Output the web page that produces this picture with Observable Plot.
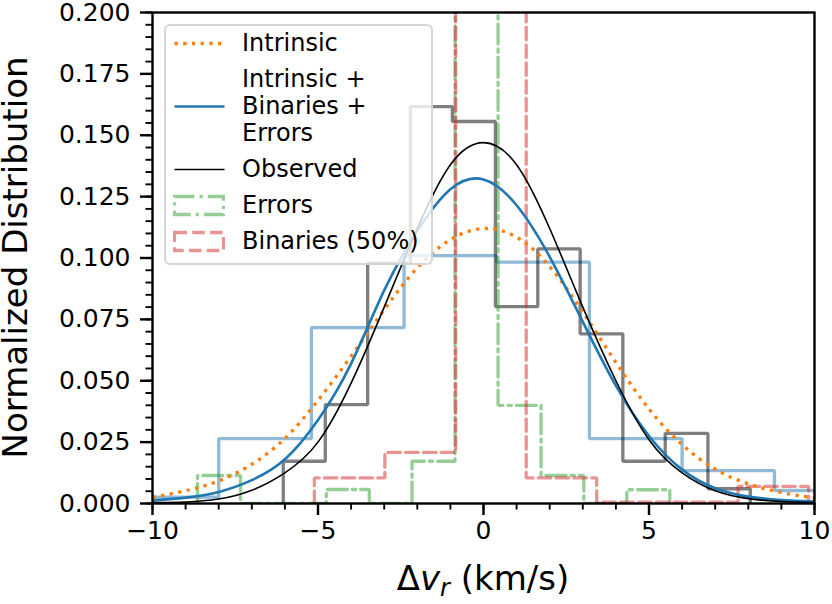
<!DOCTYPE html>
<html><head><meta charset="utf-8">
<script src="https://cdn.jsdelivr.net/npm/d3@7"></script>
<script src="https://cdn.jsdelivr.net/npm/@observablehq/plot@0.6"></script>
<style>
html,body{margin:0;padding:0;background:#fff;}
#wrap{position:relative;width:832px;height:604px;font-family:"DejaVu Sans",sans-serif;}
#legend{position:absolute;left:164px;top:24px;width:269px;height:241px;box-sizing:border-box;border:2px solid rgba(204,204,204,0.8);border-radius:6px;background:rgba(255,255,255,0.8);padding:4px 0 0 7px;display:flex;flex-direction:column;gap:9px;font-size:24px;color:#000;}
.row{display:flex;align-items:center;}
.row svg{flex:none;width:52px;height:27px;}
.row .lab{margin-left:17px;line-height:27px;white-space:nowrap;}
</style></head><body><div id="wrap"><div id="legend"></div></div>
<script>
// ---- data ----
// Observed histogram (gray)
const obsEdges  = [-6.05, -4.78, -3.50, -2.21, -0.94, 0.36, 1.64, 2.92, 4.21, 5.49, 6.78, 8.06];
const obsValues = [0.0172, 0.0403, 0.0979, 0.1617, 0.1556, 0.0802, 0.1037, 0.0691, 0.0172, 0.0286, 0.0060];
// Model histogram (light blue)
const modEdges  = [-10.80, -8.00, -5.20, -2.40, 0.40, 3.20, 6.00, 8.79, 11.59];
const modValues = [0.0026, 0.0264, 0.0716, 0.1010, 0.0983, 0.0264, 0.0134, 0.0053];
// Errors histogram (green, dash-dot)
const errEdges  = [-8.64, -7.34, -6.05, -4.75, -3.45, -2.16, -0.86, 0.44, 1.74, 3.03, 4.33, 5.63];
const errValues = [0.0114, 0, 0, 0.0057, 0, 0.0172, 0.684, 0.0400, 0.0114, 0, 0.0056];
// Binaries histogram (red, dashed)
const binEdges  = [-5.11, -2.98, -0.84, 1.29, 3.42, 5.56, 7.69, 9.82, 11.96];
const binValues = [0.0104, 0.0208, 0.42, 0.0104, 0.0005, 0.0005, 0.0070, 0.0005];
// Curves
const curveX    = [-10,-9,-8,-7,-6,-5,-4,-3,-2,-1,0,1,2,3,4,5,6,7,8,9,10];
const intrinsic = [0.0025,0.0052,0.0092,0.0160,0.0265,0.0420,0.0600,0.0790,0.0960,0.1075,0.1120,0.1085,0.0965,0.0780,0.0575,0.0385,0.0240,0.0140,0.0080,0.0045,0.0022];
const modelCurve= [0.0012,0.0024,0.0047,0.0095,0.0180,0.0340,0.0570,0.0868,0.1110,0.1280,0.1320,0.1215,0.1005,0.0740,0.0480,0.0275,0.0138,0.0062,0.0028,0.0014,0.0008];
const observed  = [0.0004,0.0006,0.0018,0.0054,0.0125,0.0250,0.0490,0.0800,0.1120,0.1380,0.1470,0.1380,0.1120,0.0800,0.0500,0.0260,0.0125,0.0052,0.0020,0.0008,0.0004];
const xMajor = [-10, -5, 0, 5, 10];
const yMajor = [0, 0.025, 0.05, 0.075, 0.1, 0.125, 0.15, 0.175, 0.2];

const C0 = "#1f77b4", C1 = "#ff7f0e", C2 = "#2ca02c", C3 = "#d62728";

function steps(edges, values) {
  const pts = [{x: edges[0], y: 0}];
  values.forEach((v, i) => { pts.push({x: edges[i], y: v}); pts.push({x: edges[i + 1], y: v}); });
  pts.push({x: edges[edges.length - 1], y: 0});
  return pts;
}
const curve = ys => curveX.map((x, i) => ({x, y: ys[i]}));
const minus = d => (d < 0 ? "\u2212" : "") + Math.abs(d);

const plot = Plot.plot({
  width: 832, height: 604,
  marginLeft: 152, marginRight: 18, marginTop: 12, marginBottom: 101,
  x: {domain: [-10, 10]},
  y: {domain: [0, 0.2]},
  style: {fontFamily: "DejaVu Sans", color: "black", background: "white", overflow: "visible"},
  marks: [
    Plot.line(steps(modEdges, modValues), {x: "x", y: "y", stroke: C0, strokeOpacity: 0.5, strokeWidth: 3.3, strokeLinejoin: "miter", clip: true}),
    Plot.line(steps(obsEdges, obsValues), {x: "x", y: "y", stroke: "black", strokeOpacity: 0.5, strokeWidth: 3.3, strokeLinejoin: "miter", clip: true}),
    Plot.line(steps(errEdges, errValues), {x: "x", y: "y", stroke: C2, strokeOpacity: 0.5, strokeWidth: 3.3, strokeDasharray: "20,5,3.3,5", strokeLinejoin: "miter", clip: true}),
    Plot.line(steps(binEdges, binValues), {x: "x", y: "y", stroke: C3, strokeOpacity: 0.5, strokeWidth: 3.3, strokeDasharray: "12.5,5.3", strokeLinejoin: "miter", clip: true}),
    Plot.line(curve(intrinsic), {x: "x", y: "y", stroke: C1, strokeWidth: 3.3, strokeDasharray: "3.3,5.4", strokeLinecap: "butt", curve: "natural", clip: true}),
    Plot.line(curve(modelCurve), {x: "x", y: "y", stroke: C0, strokeWidth: 2.6, curve: "natural", clip: true}),
    Plot.line(curve(observed), {x: "x", y: "y", stroke: "black", strokeWidth: 1.6, curve: "natural", clip: true}),
    Plot.axisX({ticks: d3.range(-10, 10.5, 1), tickSize: 6.5, tickFormat: () => "", strokeWidth: 1.9, label: null}),
    Plot.axisY({ticks: d3.range(0, 0.2001, 0.005), tickSize: 6.5, tickFormat: () => "", strokeWidth: 1.9, label: null}),
    Plot.axisX({ticks: xMajor, tickSize: 12, tickPadding: 6, fontSize: 25, tickFormat: minus, strokeWidth: 2.4, label: null}),
    Plot.axisY({ticks: yMajor, tickSize: 12, tickPadding: 10, fontSize: 25, tickFormat: d3.format(".3f"), strokeWidth: 2.4, label: null}),
    Plot.frame({stroke: "black", strokeWidth: 2.4})
  ]
});

// axis titles
const sx = plot.scale("x"), sy = plot.scale("y");
const svg = d3.select(plot);
const xMid = (sx.range[0] + sx.range[1]) / 2;
const yMid = (sy.range[0] + sy.range[1]) / 2;
const xt = svg.append("text").attr("x", xMid).attr("y", 590).attr("text-anchor", "middle")
  .attr("font-size", 34).attr("font-family", "DejaVu Sans").attr("fill", "black");
xt.append("tspan").text("\u0394");
xt.append("tspan").attr("font-style", "italic").text("v");
xt.append("tspan").attr("font-style", "italic").attr("font-size", 24).attr("dy", 6).text("r");
xt.append("tspan").attr("dy", -6).text(" (km/s)");
svg.append("text").attr("transform", `translate(27,${yMid}) rotate(-90)`).attr("text-anchor", "middle")
  .attr("font-size", 34).attr("font-family", "DejaVu Sans").attr("fill", "black").text("Normalized Distribution");

document.getElementById("wrap").prepend(plot);

// legend
const legendItems = [
  {label: "Intrinsic", kind: "line", stroke: C1, width: 3.3, dash: "3.3,5.4"},
  {label: "Intrinsic +<br>Binaries +<br>Errors", kind: "line", stroke: C0, width: 2.6, dash: null},
  {label: "Observed", kind: "line", stroke: "black", width: 1.6, dash: null},
  {label: "Errors", kind: "rect", stroke: C2, width: 3.3, dash: "20,5,3.3,5"},
  {label: "Binaries (50%)", kind: "rect", stroke: C3, width: 3.3, dash: "12.5,5.3"}
];
const leg = document.getElementById("legend");
legendItems.forEach(it => {
  const row = document.createElement("div");
  row.className = "row";
  const dash = it.dash ? `stroke-dasharray="${it.dash}"` : "";
  const shape = it.kind === "line"
    ? `<line x1="1.5" x2="51.5" y1="13.5" y2="13.5" stroke="${it.stroke}" stroke-width="${it.width}" ${dash}/>`
    : `<rect x="1.5" y="4.5" width="49" height="18" fill="none" stroke="${it.stroke}" stroke-opacity="0.5" stroke-width="${it.width}" ${dash}/>`;
  row.innerHTML = `<svg viewBox="0 0 52 27">${shape}</svg><div class="lab">${it.label}</div>`;
  leg.appendChild(row);
});
</script></body></html>
